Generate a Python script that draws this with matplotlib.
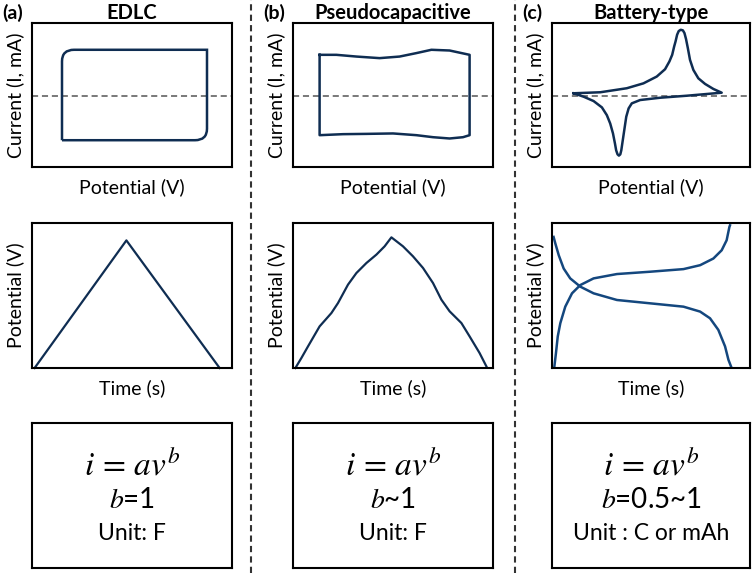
import numpy as np
import matplotlib.pyplot as plt
from matplotlib.path import Path
from matplotlib.patches import PathPatch
from matplotlib.lines import Line2D

plt.rcParams['font.family'] = ['Lato', 'DejaVu Sans']
plt.rcParams['mathtext.fontset'] = 'stix'

LINE = '#0f2d52'

# column headings
panel_tags = ['(a)', '(b)', '(c)']
panel_titles = ['EDLC', 'Pseudocapacitive', 'Battery-type']

# EDLC CV: rectangle with rounded top-left / bottom-right corners
edlc_cv_x = [0.150, 0.150, 0.150, 0.210, 0.875, 0.875, 0.875, 0.815, 0.150]
edlc_cv_y = [0.186, 0.734, 0.814, 0.814, 0.814, 0.266, 0.186, 0.186, 0.186]

# pseudocapacitive CV (top branch left->right, bottom branch right->left)
pseudo_cv_x = [0.133, 0.217, 0.317, 0.433, 0.533, 0.617, 0.692, 0.783, 0.883,
               0.883, 0.850, 0.783, 0.700, 0.617, 0.500, 0.367, 0.250, 0.133, 0.133]
pseudo_cv_y = [0.779, 0.779, 0.767, 0.756, 0.767, 0.791, 0.814, 0.809, 0.779,
               0.221, 0.207, 0.198, 0.207, 0.221, 0.233, 0.230, 0.228, 0.221, 0.779]

# battery-type CV (anodic branch left->right, cathodic branch right->left)
batt_cv_x = [0.109, 0.244, 0.378, 0.462, 0.529, 0.571, 0.593, 0.607, 0.617, 0.624,
             0.632, 0.640, 0.650, 0.661, 0.669, 0.677, 0.686, 0.697, 0.714, 0.739,
             0.773, 0.815, 0.857,
             0.681, 0.546, 0.445, 0.403, 0.387, 0.375, 0.365, 0.355, 0.350, 0.345,
             0.338, 0.331, 0.324, 0.318, 0.308, 0.294, 0.277, 0.252, 0.210, 0.160,
             0.109]
batt_cv_y = [0.512, 0.519, 0.547, 0.581, 0.628, 0.679, 0.733, 0.779, 0.837, 0.872,
             0.919, 0.944, 0.953, 0.949, 0.930, 0.888, 0.826, 0.744, 0.674, 0.616,
             0.577, 0.542, 0.516,
             0.495, 0.481, 0.465, 0.442, 0.407, 0.349, 0.256, 0.163, 0.116, 0.088,
             0.079, 0.088, 0.116, 0.163, 0.233, 0.302, 0.360, 0.414, 0.458, 0.488,
             0.512]

zero_line = [0.495, 0.495, 0.495]

# galvanostatic charge/discharge
edlc_gcd_t = [0.013, 0.472, 0.938]
edlc_gcd_v = [0.0, 0.880, 0.0]

pseudo_gcd_t = [0.012, 0.042, 0.075, 0.133, 0.192, 0.225, 0.275, 0.317, 0.367, 0.417,
                0.458, 0.492, 0.550, 0.600, 0.650, 0.700, 0.742, 0.783, 0.842, 0.883,
                0.933, 0.967]
pseudo_gcd_v = [0.0, 0.069, 0.149, 0.287, 0.379, 0.448, 0.575, 0.655, 0.724, 0.782,
                0.839, 0.901, 0.839, 0.770, 0.690, 0.586, 0.471, 0.391, 0.310, 0.218,
                0.103, 0.011]

batt_dis_t = [0.008, 0.017, 0.034, 0.059, 0.092, 0.143, 0.210, 0.328, 0.496, 0.664,
              0.748, 0.798, 0.840, 0.874, 0.891, 0.904]
batt_dis_v = [0.904, 0.858, 0.778, 0.686, 0.618, 0.561, 0.515, 0.469, 0.446, 0.423,
              0.389, 0.343, 0.263, 0.149, 0.057, 0.011]
batt_chg_t = [0.012, 0.020, 0.029, 0.042, 0.067, 0.101, 0.143, 0.210, 0.328, 0.496,
              0.664, 0.748, 0.815, 0.857, 0.882, 0.896, 0.899]
batt_chg_v = [0.011, 0.103, 0.217, 0.309, 0.423, 0.515, 0.572, 0.618, 0.648, 0.664,
              0.682, 0.709, 0.755, 0.812, 0.881, 0.973, 0.984]

b_texts = [r'$b$=1', r'$b$~1', r'$b$=0.5~1']
unit_texts = ['Unit: F', 'Unit: F', 'Unit : C or mAh']

W, H = 754, 573
fig = plt.figure(figsize=(W / 100, H / 100), dpi=100)


def px_axes(x0, y0, x1, y1):
    ax = fig.add_axes([x0 / W, 1 - y1 / H, (x1 - x0) / W, (y1 - y0) / H])
    ax.set_xlim(0, 1)
    ax.set_ylim(0, 1)
    ax.set_xticks([])
    ax.set_yticks([])
    for s in ax.spines.values():
        s.set_linewidth(1.5)
        s.set_color('black')
    return ax


cols = [(32, 232), (293, 493), (552, 750)]

for i, (x0, x1) in enumerate(cols):
    # CV row
    ax = px_axes(x0, 23, x1, 167)
    ax.plot([0, 0.5, 1], zero_line, color='#555555', lw=1.1, ls=(0, (4, 2.5)), zorder=1)
    ax.set_xlabel('Potential (V)', fontsize=14, labelpad=8)
    ax.set_ylabel('Current (I, mA)', fontsize=14, labelpad=6)
    if i == 0:
        verts = list(zip(edlc_cv_x, edlc_cv_y))
        codes = [Path.MOVETO, Path.LINETO, Path.CURVE3, Path.CURVE3,
                 Path.LINETO, Path.LINETO, Path.CURVE3, Path.CURVE3, Path.LINETO]
        ax.add_patch(PathPatch(Path(verts, codes), fill=False, ec=LINE, lw=1.8, zorder=2))
    elif i == 1:
        ax.plot(pseudo_cv_x, pseudo_cv_y, color=LINE, lw=1.8, zorder=2)
    else:
        ax.plot(batt_cv_x, batt_cv_y, color=LINE, lw=1.8, zorder=2,
                solid_joinstyle='round')

    # GCD row
    ax2 = px_axes(x0, 223, x1, 368)
    ax2.set_xlabel('Time (s)', fontsize=14, labelpad=8)
    ax2.set_ylabel('Potential (V)', fontsize=14, labelpad=6)
    if i == 0:
        ax2.plot(edlc_gcd_t, edlc_gcd_v, color=LINE, lw=1.6, clip_on=False)
    elif i == 1:
        ax2.plot(pseudo_gcd_t, pseudo_gcd_v, color=LINE, lw=1.6, clip_on=False)
    else:
        ax2.plot(batt_dis_t, batt_dis_v, color='#14477e', lw=1.8, clip_on=False)
        ax2.plot(batt_chg_t, batt_chg_v, color='#14477e', lw=1.8, clip_on=False)

    # text box row
    ax3 = px_axes(x0, 423, x1, 568)
    ax3.text(0.5, 0.71, r'$i\,=\,av^{b}$', ha='center', va='center', fontsize=24)
    ax3.text(0.5, 0.47, b_texts[i], ha='center', va='center', fontsize=20)
    ax3.text(0.5, 0.24, unit_texts[i], ha='center', va='center', fontsize=16.5)

    # headings
    fig.text((x0 - 30) / W, 1 - 13 / H, panel_tags[i], fontsize=14, fontweight='bold',
             ha='left', va='center')
    fig.text((x0 + x1) / 2 / W, 1 - 13 / H, panel_titles[i], fontsize=14.5,
             fontweight='bold', ha='center', va='center')

# column separators
for xs in (251, 515):
    fig.add_artist(Line2D([xs / W, xs / W], [0, 1], color='#333333', lw=1.5,
                          ls=(0, (3, 2))))

fig.savefig('out.png', dpi=100)
